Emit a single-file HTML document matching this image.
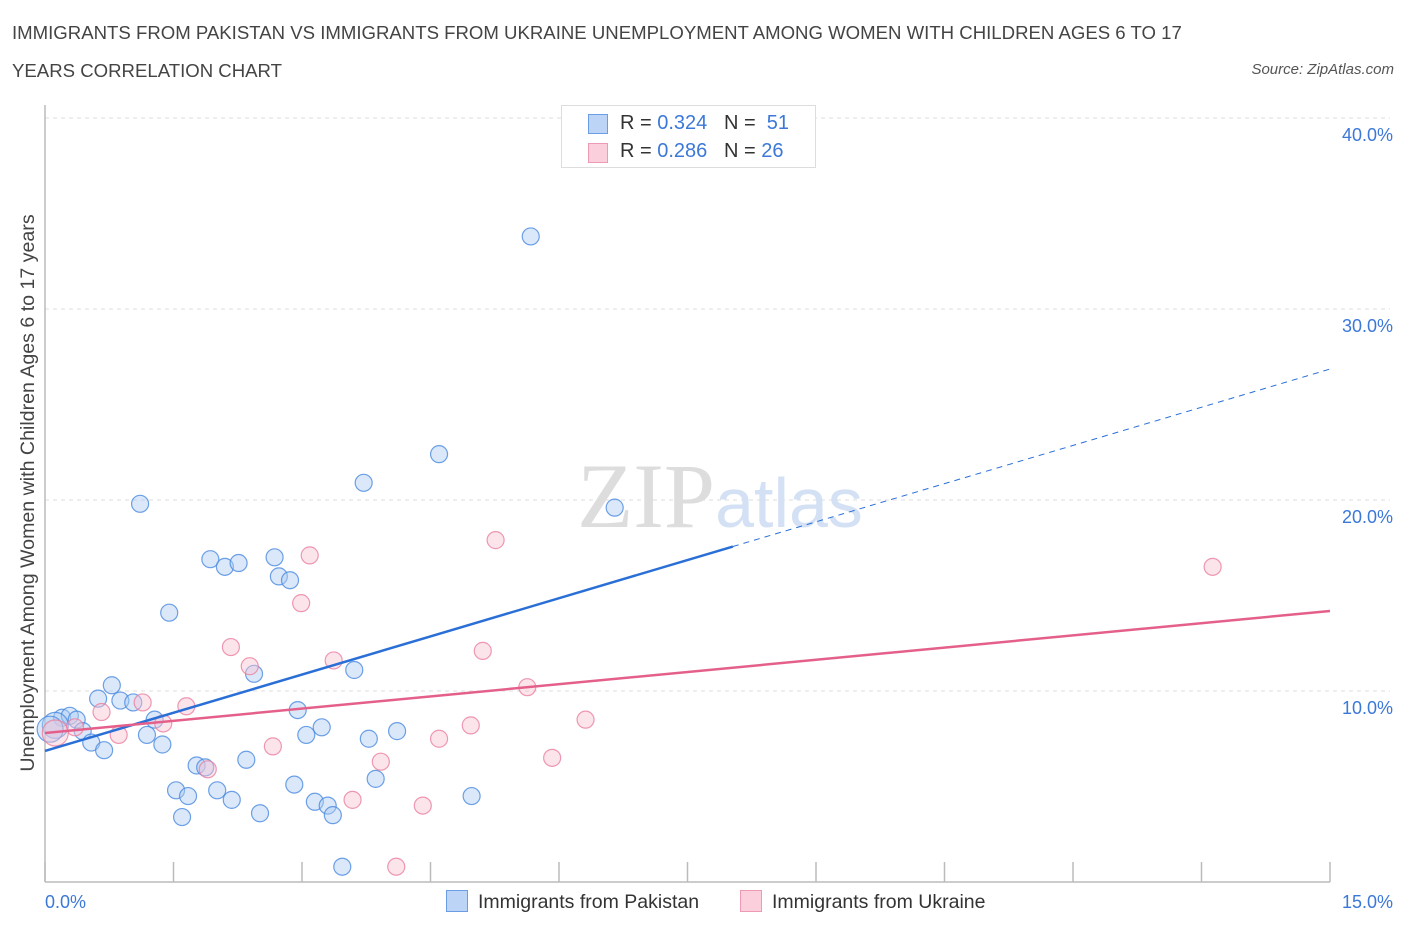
<!DOCTYPE html>
<html><head><meta charset="utf-8">
<style>
body{margin:0;background:#fff;font-family:"Liberation Sans",sans-serif;}
#wrap{position:relative;width:1406px;height:930px;overflow:hidden;}
.t{position:absolute;white-space:nowrap;}
</style></head>
<body>
<div id="wrap">
<div class="t" style="left:12px;top:14px;font-size:18.6px;color:#444;line-height:38px;width:1190px;white-space:normal">IMMIGRANTS FROM PAKISTAN VS IMMIGRANTS FROM UKRAINE UNEMPLOYMENT AMONG WOMEN WITH CHILDREN AGES 6 TO 17 YEARS CORRELATION CHART</div>
<div class="t" style="right:12px;top:61px;font-size:15px;color:#555;font-style:italic">Source: ZipAtlas.com</div>
<svg id="svg" width="1406" height="930" style="position:absolute;left:0;top:0"></svg>
</div>
<script>
const yTicks=[10,20,30,40];
const yTickLabels=["10.0%","20.0%","30.0%","40.0%"];
const xTickLabels=["0.0%","15.0%"];
const pakX=[5.67,4.6,3.72,6.65,1.11,1.93,2.1,2.26,2.68,2.73,2.86,1.45,2.44,3.61,0.78,0.62,0.88,1.03,2.95,1.28,0.2,0.29,0.37,0.12,0.06,0.44,0.54,0.69,1.19,1.37,3.05,3.23,3.78,4.11,2.35,1.77,1.87,3.86,2.91,1.53,1.67,2.01,2.18,3.15,3.3,3.36,2.51,1.6,4.98,3.47];
const pakY=[33.8,22.4,20.9,19.6,19.8,16.9,16.5,16.7,17.0,16.0,15.8,14.1,10.9,11.1,10.3,9.6,9.5,9.4,9.0,8.5,8.6,8.7,8.5,8.2,8.0,7.9,7.3,6.9,7.7,7.2,7.7,8.1,7.5,7.9,6.4,6.1,6.0,5.4,5.1,4.8,4.5,4.8,4.3,4.2,4.0,3.5,3.6,3.4,4.5,0.8];
const ukrX=[13.63,5.26,3.09,2.99,2.17,2.39,3.37,5.11,5.63,1.14,1.65,0.66,1.38,6.31,4.97,4.6,0.86,0.35,0.12,2.66,1.9,3.92,5.92,3.59,4.41,4.1];
const ukrY=[16.5,17.9,17.1,14.6,12.3,11.3,11.6,12.1,10.2,9.4,9.2,8.9,8.3,8.5,8.2,7.5,7.7,8.1,7.8,7.1,5.9,6.3,6.5,4.3,4.0,0.8];
const pakTrend=[6.86,1.333]; // intercept, slope
const ukrTrend=[7.8,0.426];
const X0=45,X1=1330,Y0=882,Y40=118;
const sx=v=>X0+v*(X1-X0)/15;
const sy=v=>Y0-v*(Y0-Y40)/40;
const svg=document.getElementById('svg');
const NS='http://www.w3.org/2000/svg';
function mk(tag,attrs,parent){const e=document.createElementNS(NS,tag);for(const k in attrs)e.setAttribute(k,attrs[k]);(parent||svg).appendChild(e);return e;}
yTicks.forEach((v,i)=>{
 const g=mk('line',{x1:X0,x2:X1+60,y1:sy(v),y2:sy(v),stroke:'#ddd','stroke-dasharray':'4,4'});
 
 
 const t=mk('text',{x:1393,y:sy(v)+23,'text-anchor':'end','font-size':18,fill:'#3b78d8','font-family':'Liberation Sans'});
 t.textContent=yTickLabels[i];
 
 
});
const ax=mk('line',{x1:X0,x2:X0,y1:105,y2:Y0,stroke:'#bbb','stroke-width':1.5});


const bx=mk('line',{x1:X0,x2:X1,y1:Y0,y2:Y0,stroke:'#bbb','stroke-width':1.5});


for(let i=0;i<=10;i++){const v=i*1.5;const tk=mk('line',{x1:sx(v),x2:sx(v),y1:Y0,y2:Y0-20,stroke:'#bbb','stroke-width':1.5});
 
 }
[[0,45,'start'],[15,1393,'end']].forEach((a,i)=>{const t=mk('text',{x:a[1],y:908,'text-anchor':a[2],'font-size':18,fill:'#3b78d8','font-family':'Liberation Sans'});t.textContent=xTickLabels[i];
 
 });
const wm=mk('text',{x:720,y:527,'text-anchor':'middle','font-size':92,'font-family':'Liberation Serif',fill:'#ddd'});
wm.innerHTML='<tspan>ZIP</tspan><tspan fill="#d4e1f5" font-family="Liberation Sans" font-size="70">atlas</tspan>';


const yt=mk('text',{x:0,y:0,transform:'translate(34,493) rotate(-90)','text-anchor':'middle','font-size':19.6,fill:'#444','font-family':'Liberation Sans'});
yt.textContent='Unemployment Among Women with Children Ages 6 to 17 years';


function pts(xs,ys,fill,stroke,name){xs.forEach((x,i)=>{const big=x<0.15;const c=mk('circle',{cx:sx(x),cy:sy(ys[i]),r:big?13:8.5,fill:fill,'fill-opacity':0.45,stroke:stroke,'stroke-opacity':0.8,'stroke-width':1.2});
 
 });}
pts(pakX,pakY,'#aecbf2','#4a8ae0','pakistan-point');
pts(ukrX,ukrY,'#f8c3d3','#ea7fa0','ukraine-point');
const f=(t,x)=>t[0]+t[1]*x;
const l1=mk('line',{x1:sx(0),y1:sy(f(pakTrend,0)),x2:sx(8.03),y2:sy(f(pakTrend,8.03)),stroke:'#2a6fd6','stroke-width':2.5});


const l2=mk('line',{x1:sx(8.03),y1:sy(f(pakTrend,8.03)),x2:sx(15),y2:sy(f(pakTrend,15)),stroke:'#2a6fd6','stroke-width':1,'stroke-dasharray':'6,5'});


const l3=mk('line',{x1:sx(0),y1:sy(f(ukrTrend,0)),x2:sx(15),y2:sy(f(ukrTrend,15)),stroke:'#e4608a','stroke-width':2.5});


</script>
<div class="t" style="left:561px;top:105px;width:253px;height:61px;border:1px solid #ddd;background:#fff;font-size:20px;color:#333">
 <div style="position:absolute;left:26px;top:8px;width:18px;height:18px;background:#bcd4f5;border:1px solid #6a9de4"></div>
 <div style="position:absolute;left:58px;top:6px">R = <span style="color:#3b78d8">0.324</span>&nbsp;&nbsp;&nbsp;N = &nbsp;<span style="color:#3b78d8">51</span></div>
 <div style="position:absolute;left:26px;top:37px;width:18px;height:18px;background:#fbd0dc;border:1px solid #ee9ab4"></div>
 <div style="position:absolute;left:58px;top:34px">R = <span style="color:#3b78d8">0.286</span>&nbsp;&nbsp;&nbsp;N = <span style="color:#3b78d8">26</span></div>
</div>
<div class="t" style="left:446px;top:890px;font-size:19.5px;color:#333"><span style="display:inline-block;width:20px;height:20px;background:#bcd4f5;border:1px solid #6a9de4;vertical-align:-4px;margin-right:10px"></span>Immigrants from Pakistan</div>
<div class="t" style="left:740px;top:890px;font-size:19.5px;color:#333"><span style="display:inline-block;width:20px;height:20px;background:#fbd0dc;border:1px solid #ee9ab4;vertical-align:-4px;margin-right:10px"></span>Immigrants from Ukraine</div>
</body></html>
